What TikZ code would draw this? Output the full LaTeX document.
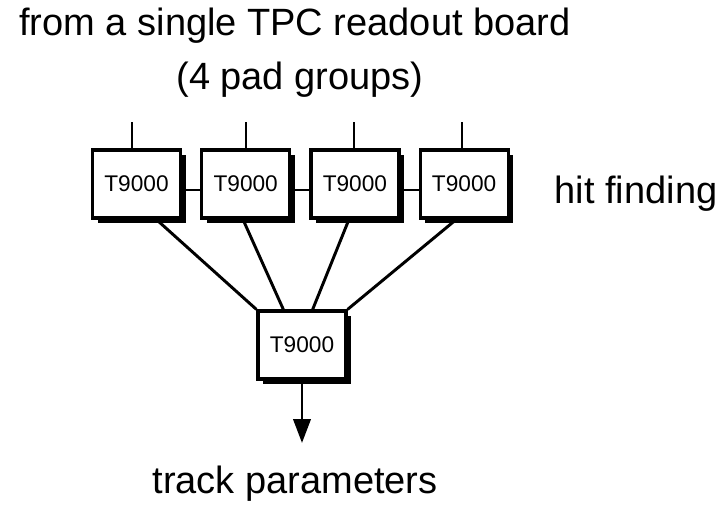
\documentclass[tikz,border=0pt]{standalone}
\usepackage{fontspec}
\setmainfont{Liberation Sans}
\usetikzlibrary{positioning,arrows.meta,shadows}

\tikzset{
  chip/.style={draw,fill=white,line width=2.4pt,minimum width=66pt,
    minimum height=51pt,inner sep=0pt,font=\fontsize{17}{20}\selectfont,
    drop shadow={shadow xshift=4pt,shadow yshift=-4pt,fill=black,opacity=1}},
  wire/.style={line width=2.2pt},
  caption/.style={anchor=base,inner sep=0pt,font=\fontsize{28.5}{34}\selectfont}
}

\begin{document}
\begin{tikzpicture}[x=0.75pt,y=-0.75pt]
  \useasboundingbox (0,0) rectangle (722,508);

  \node[caption] (src) at (295,35) {from a single TPC readout board};
  \node[caption] (grp) at (300,89) {(4 pad groups)};

  \node[chip] (h1) at (136.5,184) {T9000};
  \node[chip,right=13.5pt of h1] (h2) {T9000};
  \node[chip,right=13.5pt of h2] (h3) {T9000};
  \node[chip,right=13.5pt of h3] (h4) {T9000};
  \node[caption] (hit) at (636,203) {hit finding};

  \node[chip] (trk) at (302,345) {T9000};
  \coordinate (out) at (302,443);
  \node[caption] (par) at (295,493) {track parameters};

  \foreach \i/\x in {1/132,2/246,3/354,4/462} {
    \coordinate (in\i) at (\x,122);
    \draw[wire] (in\i) -- (in\i |- h\i.north);
  }
  \draw[wire] ([yshift=-4.5pt]h1.east) -- ([yshift=-4.5pt]h2.west);
  \draw[wire] ([yshift=-4.5pt]h2.east) -- ([yshift=-4.5pt]h3.west);
  \draw[wire] ([yshift=-4.5pt]h3.east) -- ([yshift=-4.5pt]h4.west);

  \draw[wire] ([xshift=15pt]h1.south) -- (trk.north west);
  \draw[wire] ([xshift=-2pt]h2.south) -- ([xshift=-14pt]trk.north);
  \draw[wire] ([xshift=-4.5pt]h3.south) -- ([xshift=8pt]trk.north);
  \draw[wire] ([xshift=-6pt]h4.south) -- (trk.north east);

  \draw[wire,-{Triangle[length=18pt,width=13pt]}] (trk.south) -- (out);
\end{tikzpicture}
\end{document}
